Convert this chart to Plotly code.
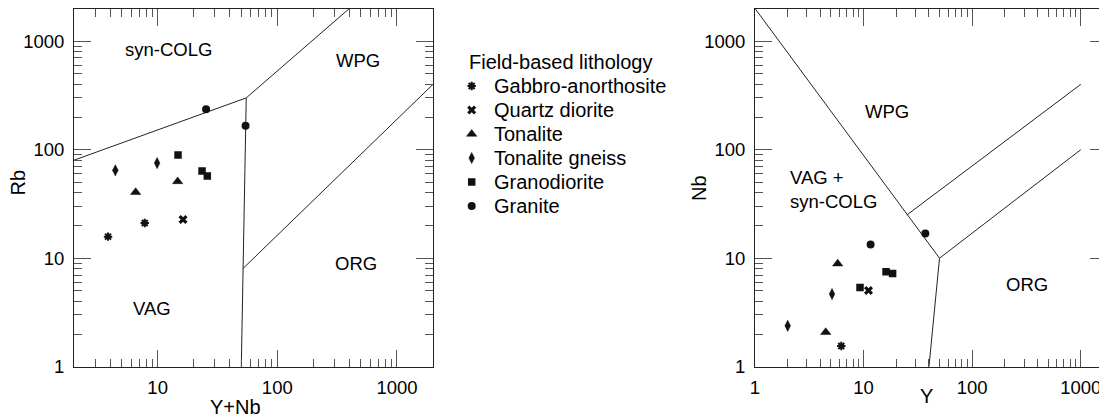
import math
import plotly.graph_objects as go

# ---------------- data ----------------
lithologies = ["Gabbro-anorthosite", "Quartz diorite", "Tonalite",
               "Tonalite gneiss", "Granodiorite", "Granite"]

# Left diagram: Rb vs (Y+Nb)
gabbro_ynb = [3.85, 7.8]
gabbro_rb = [15.8, 21.1]
qdiorite_ynb = [16.3]
qdiorite_rb = [22.7]
tonalite_ynb = [6.55, 14.7]
tonalite_rb = [40.5, 51.0]
gneiss_ynb = [4.43, 9.9]
gneiss_rb = [64.5, 75.3]
granodiorite_ynb = [14.8, 23.5, 26.0]
granodiorite_rb = [89.2, 63.6, 57.2]
granite_ynb = [25.4, 54.3]
granite_rb = [236, 166]

# Right diagram: Nb vs Y
gabbro_y = [6.23]
gabbro_nb = [1.55]
qdiorite_y = [11.1]
qdiorite_nb = [5.04]
tonalite_y = [5.77, 4.48]
tonalite_nb = [8.9, 2.08]
gneiss_y = [5.12, 2.0]
gneiss_nb = [4.67, 2.38]
granodiorite_y = [9.27, 16.1, 18.5]
granodiorite_nb = [5.38, 7.48, 7.23]
granite_y = [11.6, 37.0]
granite_nb = [13.4, 16.9]

# Discrimination boundaries (Pearce et al. 1984)
left_bound_x = [[2, 55], [55, 400], [55, 51.5, 50], [51.5, 2000]]
left_bound_y = [[80, 300], [300, 2000], [300, 8, 1], [8, 400]]
right_bound_x = [[1, 50, 1000], [50, 40], [25, 1000]]
right_bound_y = [[2000, 10, 100], [10, 1], [25, 400]]

major_ticks = [1, 10, 100, 1000]
minor_ticks = [m * d for d in (1, 10, 100) for m in range(2, 10)]
minor_ticks_x_left = [v for v in minor_ticks if v > 2]

left_data = {
    "Gabbro-anorthosite": (gabbro_ynb, gabbro_rb),
    "Quartz diorite": (qdiorite_ynb, qdiorite_rb),
    "Tonalite": (tonalite_ynb, tonalite_rb),
    "Tonalite gneiss": (gneiss_ynb, gneiss_rb),
    "Granodiorite": (granodiorite_ynb, granodiorite_rb),
    "Granite": (granite_ynb, granite_rb),
}
right_data = {
    "Gabbro-anorthosite": (gabbro_y, gabbro_nb),
    "Quartz diorite": (qdiorite_y, qdiorite_nb),
    "Tonalite": (tonalite_y, tonalite_nb),
    "Tonalite gneiss": (gneiss_y, gneiss_nb),
    "Granodiorite": (granodiorite_y, granodiorite_nb),
    "Granite": (granite_y, granite_nb),
}

# ---------------- styles ----------------
INK = "#111111"
FONT = "Liberation Sans, Arial, Helvetica, sans-serif"
# the page body has an 8px margin, so the figure is placed 8px in from the window corner
OFF = 8
W, H = 1107 - OFF, 417 - OFF

styles = {
    "Gabbro-anorthosite": dict(symbol="asterisk", size=7,
                               line=dict(width=2, color=INK), color=INK),
    "Quartz diorite": dict(symbol="x", size=8, color=INK, line=dict(width=0)),
    "Tonalite": dict(symbol="triangle-up", size=9, color=INK, line=dict(width=0.5, color=INK)),
    "Tonalite gneiss": dict(symbol="diamond-tall", size=8, color=INK, line=dict(width=0.5, color=INK)),
    "Granodiorite": dict(symbol="square", size=7.5, color=INK, line=dict(width=0)),
    "Granite": dict(symbol="circle", size=8, color=INK, line=dict(width=0)),
}

fig = go.Figure()

# boundary lines
for bx, by in zip(left_bound_x, left_bound_y):
    fig.add_trace(go.Scatter(x=bx, y=by, mode="lines", xaxis="x", yaxis="y",
                             line=dict(color="#222222", width=1),
                             showlegend=False, hoverinfo="skip"))
for bx, by in zip(right_bound_x, right_bound_y):
    fig.add_trace(go.Scatter(x=bx, y=by, mode="lines", xaxis="x2", yaxis="y2",
                             line=dict(color="#222222", width=1),
                             showlegend=False, hoverinfo="skip"))

# sample points
for name in lithologies:
    lx, ly = left_data[name]
    rx, ry = right_data[name]
    fig.add_trace(go.Scatter(x=lx, y=ly, mode="markers", xaxis="x", yaxis="y",
                             marker=styles[name], name=name, showlegend=False))
    fig.add_trace(go.Scatter(x=rx, y=ry, mode="markers", xaxis="x2", yaxis="y2",
                             marker=styles[name], name=name, showlegend=False))

# legend drawn in a hidden helper axis (one row per lithology)
for i, name in enumerate(lithologies):
    fig.add_trace(go.Scatter(x=[16.7], y=[i], mode="markers", xaxis="x3", yaxis="y3",
                             marker=styles[name], showlegend=False, cliponaxis=False,
                             hoverinfo="skip"))

def px_x(p):
    return (p - OFF) / W

def px_y(p):
    return 1 - (p - OFF) / H

tick_font = dict(family=FONT, size=18.5, color="black")
common = dict(type="log", showgrid=False, zeroline=False, showline=True,
              linecolor="#222222", linewidth=1, mirror="ticks",
              ticks="inside", ticklen=17, tickwidth=1, tickcolor="#555555",
              tickmode="array", tickvals=major_ticks,
              ticktext=[str(v) for v in major_ticks],
              tickfont=tick_font, automargin=False)

y_dom = [px_y(366.7), px_y(8.5)]

fig.update_layout(
    width=W, height=H,
    margin=dict(l=0, r=0, t=0, b=0, pad=0, autoexpand=False),
    paper_bgcolor="white", plot_bgcolor="white",
    font=dict(family=FONT, color="black"),
    xaxis=dict(common, domain=[px_x(74), px_x(433)],
               range=[math.log10(2), math.log10(2000)], anchor="y",
               ticklabelstandoff=4,
               minor=dict(ticks="inside", ticklen=8, tickwidth=1, tickcolor="#555555",
                          tickmode="array", tickvals=minor_ticks_x_left)),
    yaxis=dict(common, domain=y_dom, range=[0, math.log10(2000)], anchor="x",
               ticklabelstandoff=5,
               minor=dict(ticks="inside", ticklen=8, tickwidth=1, tickcolor="#555555",
                          tickmode="array", tickvals=minor_ticks)),
    xaxis2=dict(common, domain=[px_x(755), 1.0],
                range=[0, (1107 - 755) / 108.6], anchor="y2",
                ticklabelstandoff=4,
                minor=dict(ticks="inside", ticklen=8, tickwidth=1, tickcolor="#555555",
                           tickmode="array", tickvals=minor_ticks)),
    yaxis2=dict(common, domain=y_dom, range=[0, math.log10(2000)], anchor="x2",
                ticklabelstandoff=5,
                minor=dict(ticks="inside", ticklen=8, tickwidth=1, tickcolor="#555555",
                           tickmode="array", tickvals=minor_ticks)),
    xaxis3=dict(domain=[px_x(455), px_x(655)], range=[0, 200], visible=False,
                anchor="y3", fixedrange=True, automargin=False),
    yaxis3=dict(domain=[px_y(218), px_y(50)], range=[5.5, -1.5], visible=False,
                anchor="x3", fixedrange=True, automargin=False),
)

annotations = []
label_font = dict(family=FONT, size=18.5, color="black")

def region(text, x, y, xr, yr, align="center", xanchor="center"):
    annotations.append(dict(text=text, x=math.log10(x), y=math.log10(y),
                            xref=xr, yref=yr, showarrow=False, font=label_font,
                            align=align, xanchor=xanchor, yanchor="middle"))

region("syn-COLG", 12.4, 830, "x", "y")
region("WPG", 469, 664, "x", "y")
region("ORG", 457, 8.9, "x", "y")
region("VAG", 9.0, 3.44, "x", "y")
region("WPG", 16.5, 225, "x2", "y2")
region("VAG +<br>syn-COLG", 2.03, 43, "x2", "y2", align="left", xanchor="left")
region("ORG", 318, 5.73, "x2", "y2")

title_font = dict(family=FONT, size=20, color="black")

def axis_title(text, x, y, angle=0):
    annotations.append(dict(text=text, x=px_x(x), y=px_y(y), xref="paper", yref="paper",
                            showarrow=False, textangle=angle, font=title_font,
                            xanchor="center", yanchor="middle"))

axis_title("Rb", 17.5, 183, -90)
axis_title("Y+Nb", 235, 407)
axis_title("Nb", 699, 188, -90)
axis_title("Y", 926.7, 396)

legend_font = dict(family=FONT, size=20, color="black")
annotations.append(dict(text="Field-based lithology", x=11.7, y=-1, xref="x3", yref="y3",
                        showarrow=False, xanchor="left", yanchor="middle", font=legend_font))
for i, name in enumerate(lithologies):
    annotations.append(dict(text=name, x=36.7, y=i, xref="x3", yref="y3",
                            showarrow=False, xanchor="left", yanchor="middle",
                            font=legend_font))

fig.update_layout(annotations=annotations)

fig.write_html("out.html")
